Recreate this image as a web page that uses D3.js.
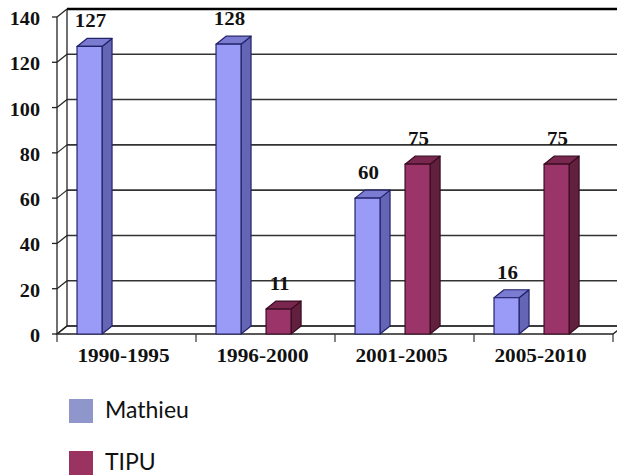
<!DOCTYPE html>
<html>
<head>
<meta charset="utf-8">
<script src="https://cdn.jsdelivr.net/npm/d3@7"></script>
<style>
  html, body { margin: 0; padding: 0; background: #fff; }
  svg { display: block; }
</style>
</head>
<body>
<svg id="chart" width="617" height="475"></svg>
<script>
// Periods and counts per series
const categories = ["1990-1995", "1996-2000", "2001-2005", "2005-2010"];
const mathieu = [127, 128, 60, 16];
const tipu = [null, 11, 75, 75];
const yTicks = [0, 20, 40, 60, 80, 100, 120, 140];
const seriesNames = ["Mathieu", "TIPU"];

const W = 617, H = 475;
const depthX = 10, depthY = -8;   // 3D depth offset of the back wall

const svg = d3.select("#chart");

const x = d3.scaleBand().domain(categories).range([57, 613]).padding(0);
const y = d3.scaleLinear().domain([0, 140]).range([334, 17]);

const series = [
  { name: seriesNames[0], values: mathieu, offset: 0.144,
    front: "#9a9af7", side: "#6565b5", top: "#7b7bd2", stroke: "#23236a" },
  { name: seriesNames[1], values: tipu, offset: 0.504,
    front: "#9b3468", side: "#62203f", top: "#7a2750", stroke: "#3a0c22" }
];
const barW = x.bandwidth() * 0.18;

// ---- walls & grid ----
const g = svg.append("g");
const x0 = x.range()[0], x1 = x.range()[1];

// floor
g.append("path")
  .attr("d", `M${x0},${y(0)} L${x1},${y(0)} L${x1 + depthX},${y(0) + depthY} L${x0 + depthX},${y(0) + depthY} Z`)
  .attr("fill", "#fff").attr("stroke", "#222").attr("stroke-width", 1.3);

// back wall gridlines and left wall diagonals
yTicks.forEach(t => {
  const yb = y(t) + depthY;
  g.append("line")
    .attr("x1", x0 + depthX).attr("x2", W + 5)
    .attr("y1", yb).attr("y2", yb)
    .attr("stroke", t === 140 ? "#000" : "#333")
    .attr("stroke-width", t === 140 ? 2.4 : 1.6);
  g.append("line")
    .attr("x1", x0 - 5).attr("x2", x0)
    .attr("y1", y(t)).attr("y2", y(t))
    .attr("stroke", "#222").attr("stroke-width", 1.3);
  g.append("line")
    .attr("x1", x0).attr("x2", x0 + depthX)
    .attr("y1", y(t)).attr("y2", yb)
    .attr("stroke", "#222").attr("stroke-width", 1.2);
});
// left wall back edge and front axis
g.append("line").attr("x1", x0 + depthX).attr("x2", x0 + depthX)
  .attr("y1", y(140) + depthY).attr("y2", y(0) + depthY)
  .attr("stroke", "#222").attr("stroke-width", 1.3);
g.append("line").attr("x1", x0).attr("x2", x0)
  .attr("y1", y(140)).attr("y2", y(0))
  .attr("stroke", "#222").attr("stroke-width", 1.3);

// category ticks
const tickXs = categories.map(c => x(c)).concat([x1]);
tickXs.forEach(tx => {
  g.append("line").attr("x1", tx).attr("x2", tx)
    .attr("y1", y(0)).attr("y2", y(0) + 8)
    .attr("stroke", "#333").attr("stroke-width", 1.2);
});

// ---- y tick labels ----
svg.append("g").selectAll("text").data(yTicks).join("text")
  .attr("text-anchor", "end")
  .attr("transform", d => `translate(40,${y(d) + 8}) scale(1.12,1)`)
  .attr("font-family", "Liberation Serif, serif")
  .attr("font-weight", "bold").attr("font-size", 18)
  .attr("fill", "#111")
  .text(d => d);

// ---- category labels ----
svg.append("g").selectAll("text").data(categories).join("text")
  .attr("text-anchor", "middle")
  .attr("transform", d => `translate(${x(d) + x.bandwidth() / 2 - 3},${362}) scale(1.12,1)`)
  .attr("font-family", "Liberation Serif, serif")
  .attr("font-weight", "bold").attr("font-size", 19)
  .attr("fill", "#111")
  .text(d => d);

// ---- 3D bars ----
const bars = svg.append("g");
series.forEach(s => {
  categories.forEach((c, i) => {
    const v = s.values[i];
    if (v == null) return;
    const bx = x(c) + x.bandwidth() * s.offset;
    const top = y(v), base = y(0);
    const bg = bars.append("g").attr("stroke", s.stroke).attr("stroke-width", 1.2)
      .attr("stroke-linejoin", "round");
    // side face
    bg.append("path")
      .attr("d", `M${bx + barW},${top} L${bx + barW + depthX},${top + depthY} L${bx + barW + depthX},${base + depthY} L${bx + barW},${base} Z`)
      .attr("fill", s.side);
    // top face
    bg.append("path")
      .attr("d", `M${bx},${top} L${bx + depthX},${top + depthY} L${bx + barW + depthX},${top + depthY} L${bx + barW},${top} Z`)
      .attr("fill", s.top);
    // front face
    bg.append("rect")
      .attr("x", bx).attr("y", top).attr("width", barW).attr("height", base - top)
      .attr("fill", s.front);
    // value label, centred over the front face
    svg.append("text")
      .attr("text-anchor", "middle")
      .attr("transform", `translate(${bx + barW / 2 + 1},${top - 19}) scale(1.1,1)`)
      .attr("font-family", "Liberation Serif, serif")
      .attr("font-weight", "bold").attr("font-size", 19)
      .attr("fill", "#111")
      .text(v);
  });
});

// ---- legend ----
const legendColors = ["#8f96cb", "#9a3360"];
const legend = svg.append("g");
seriesNames.forEach((n, i) => {
  const ly = 399 + i * 52;
  legend.append("rect").attr("x", 69).attr("y", ly).attr("width", 24).attr("height", 24)
    .attr("fill", legendColors[i]);
  legend.append("text").attr("x", 105).attr("y", ly + 19)
    .attr("font-family", "Lato, sans-serif").attr("font-size", 23)
    .attr("fill", "#111")
    .text(n);
});
</script>
</body>
</html>
